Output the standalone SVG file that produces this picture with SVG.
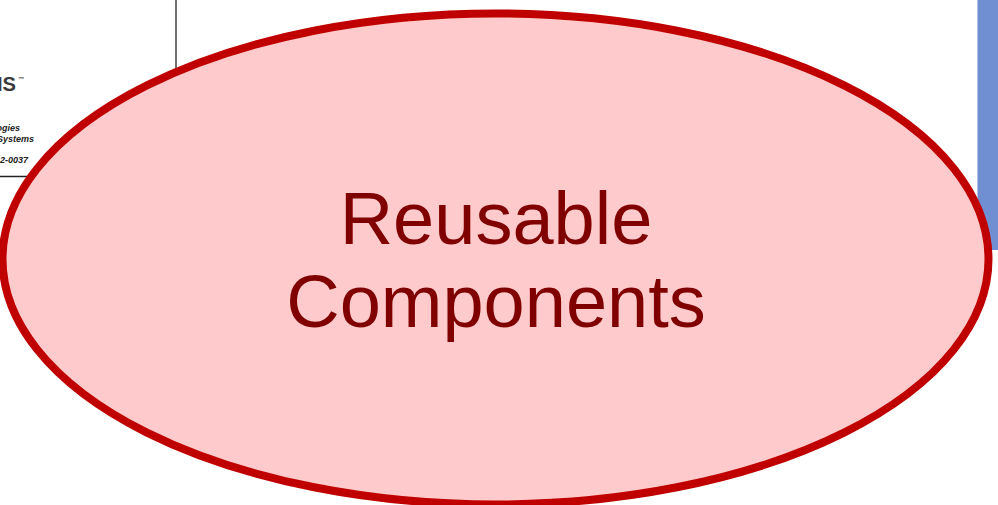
<svg xmlns="http://www.w3.org/2000/svg" width="998" height="505" viewBox="0 0 998 505">
<style>
.bg{fill:#ffffff}
.frame{stroke:#222222;stroke-width:1.3;fill:none}
.logo{font-family:"Liberation Sans",Arial,sans-serif;font-weight:bold;fill:#3a3a3a}
.small{font-family:"Liberation Sans",Arial,sans-serif;font-weight:bold;font-style:italic;font-size:9px;fill:#222222;text-anchor:end}
.ell{fill:#fecacb;stroke:#c00000;stroke-width:8}
.lbl{font-family:"Liberation Sans",Arial,sans-serif;font-size:74px;fill:#800000;text-anchor:middle}
</style>
<rect class="bg" x="0" y="0" width="998" height="505"/>
<g id="background-slide">
<line class="frame" x1="176" y1="0" x2="176" y2="80"/>
<line class="frame" x1="0" y1="176.5" x2="40" y2="176.5"/>
<text class="logo" x="16" y="91" font-size="20" text-anchor="end" textLength="19" lengthAdjust="spacingAndGlyphs">IS</text>
<text class="logo" x="18" y="81" font-size="6">™</text>
<text class="small" x="20" y="131">ogies</text>
<text class="small" x="34" y="142">Systems</text>
<text class="small" x="28" y="163">2-0037</text>
<rect x="977" y="0" width="21" height="250" fill="#6f8fd2"/>
<line x1="977.5" y1="0" x2="977.5" y2="250" stroke="#b0c4e8" stroke-width="1"/>
</g>
<g id="reusable-components">
<ellipse class="ell" cx="495.5" cy="259" rx="493" ry="245.5"/>
<text class="lbl" x="496" y="244">Reusable</text>
<text class="lbl" x="496" y="327">Components</text>
</g>
<g id="connectors"></g>
</svg>
